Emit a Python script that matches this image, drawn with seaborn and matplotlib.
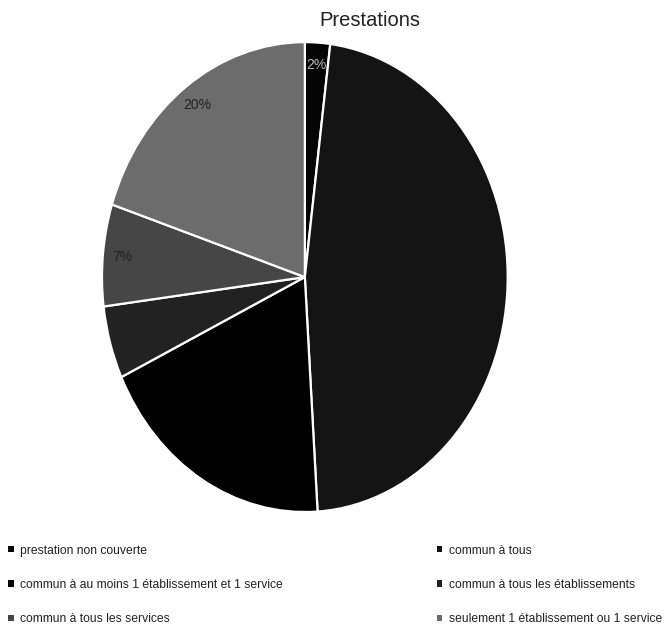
import matplotlib
matplotlib.use("Agg")
import matplotlib.pyplot as plt
import seaborn as sns
from matplotlib.patches import Patch

sns.set_theme(style="white")
plt.rcParams['font.family'] = ['Liberation Sans', 'DejaVu Sans']

title = "Prestations"
categories = [
    "prestation non couverte",
    "commun à tous",
    "commun à au moins 1 établissement et 1 service",
    "commun à tous les établissements",
    "commun à tous les services",
    "seulement 1 établissement ou 1 service",
]
values = [2, 47, 19, 5, 7, 20]
colors = ["#050505", "#141414", "#000000", "#222222", "#464646", "#6c6c6c"]
labelled = ["prestation non couverte", "commun à tous les services",
            "seulement 1 établissement ou 1 service"]

fig = plt.figure(figsize=(6.64, 6.29), dpi=100)
ax = fig.add_axes([0.1536, 0.186, 0.611, 0.747])

wedges, texts, autotexts = ax.pie(
    values, colors=colors, startangle=90, counterclock=False,
    autopct=lambda p: f"{p:.0f}%", pctdistance=0.905,
    wedgeprops=dict(edgecolor="white", linewidth=1.6),
    textprops=dict(fontsize=10, color="#222222"),
)
for cat, t in zip(categories, autotexts):
    if cat not in labelled:
        t.set_text("")
autotexts[0].set_color("#b8b8b8")
ax.set_aspect("auto")
ax.set_xlim(-1, 1)
ax.set_ylim(-1, 1)

fig.text(0.557, 0.967, title, ha="center", va="center", fontsize=14.5, color="#222222")

handles = [Patch(facecolor=c, edgecolor="none") for c in colors]
order = [0, 2, 4, 1, 3, 5]
leg = fig.legend([handles[i] for i in order], [categories[i] for i in order],
                 ncol=2, loc="upper left", bbox_to_anchor=(0.005, 0.142),
                 frameon=False, fontsize=8.7, handlelength=0.45, handleheight=0.45,
                 handletextpad=0.5, labelspacing=1.85, columnspacing=12.8,
                 borderaxespad=0)
for t in leg.get_texts():
    t.set_color("#222222")

fig.savefig("out.png", dpi=100)
